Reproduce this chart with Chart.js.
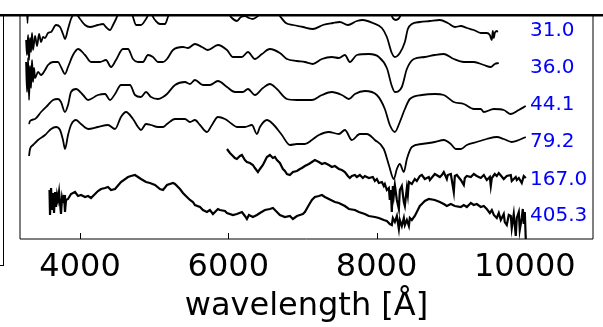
<!DOCTYPE html>
<html><head><meta charset="utf-8">
<script src="https://cdn.jsdelivr.net/npm/chart.js@4"></script>
<style>html,body{margin:0;padding:0;background:#fff;overflow:hidden}#wrap{position:relative;width:603px;height:327px}</style>
</head><body><div id="wrap"><canvas id="c" width="603" height="327"></canvas></div>
<script>
// epochs (labels at right of each spectrum)
const epochs = ['31.0','36.0','44.1','79.2','167.0','405.3'];
// label anchor flux (same offset units as spectra)
const labelFlux = [204,167,130,93,55,19];
const labelWl = 10070;
const xTicks = [4000,6000,8000,10000];

// spectra: [wavelength (Å), offset flux]
const spec_31 = [[3272,200],[3285,185],[3299,205],[3312,180],[3325,202],[3339,188],[3352,207],[3366,190],[3393,204],[3420,194],[3447,206],[3474,198],[3501,203],[3528,202],[3568,207],[3609,208],[3676,215],[3730,213],[3770,206],[3797,201],[3838,211],[3878,221],[3932,227],[4000,221],[4067,215],[4134,213],[4242,215],[4310,216],[4350,213],[4404,210],[4445,215],[4485,221],[4539,230],[4620,235],[4687,228],[4714,223],[4755,215],[4822,215],[4890,221],[4943,227],[5011,220],[5078,216],[5146,216],[5186,223],[5240,232],[5348,240],[5618,243],[5887,235],[5995,227],[6049,222],[6116,219],[6170,223],[6224,224],[6278,222],[6332,221],[6400,224],[6494,232],[6629,231],[6696,224],[6777,217],[6872,215],[7006,213],[7141,211],[7276,215],[7411,217],[7505,218],[7613,215],[7734,219],[7815,220],[7950,217],[8072,212],[8139,203],[8206,187],[8247,183],[8314,187],[8382,198],[8422,211],[8476,216],[8584,218],[8719,219],[8854,220],[8961,217],[9056,213],[9137,214],[9218,212],[9312,210],[9406,207],[9487,207],[9528,205],[9555,200],[9568,209],[9582,202],[9595,207],[9622,209],[9636,208]];
const spec_36 = [[3272,178],[3285,148],[3299,182],[3312,140],[3325,174],[3339,152],[3352,180],[3366,158],[3379,172],[3393,162],[3433,168],[3474,165],[3528,170],[3568,175],[3636,178],[3703,178],[3743,173],[3797,166],[3838,173],[3905,185],[3973,191],[4067,185],[4148,178],[4269,178],[4350,180],[4418,173],[4485,180],[4579,191],[4647,191],[4714,181],[4782,178],[4849,178],[4916,185],[4984,183],[5051,178],[5119,178],[5173,181],[5254,190],[5388,193],[5456,192],[5550,196],[5645,193],[5725,190],[5860,195],[5982,190],[6063,183],[6184,183],[6265,188],[6359,181],[6454,186],[6561,191],[6696,187],[6791,181],[6926,179],[7033,178],[7141,176],[7263,181],[7397,183],[7492,182],[7573,185],[7640,178],[7734,185],[7896,186],[8031,183],[8139,172],[8206,154],[8247,148],[8341,153],[8409,171],[8503,181],[8651,183],[8786,185],[8907,186],[9042,181],[9177,178],[9312,178],[9447,175],[9541,173],[9595,176],[9649,177]];
const spec_44 = [[3312,116],[3325,119],[3393,121],[3474,128],[3568,135],[3636,140],[3703,141],[3743,138],[3797,128],[3838,135],[3878,148],[3946,151],[4040,145],[4108,140],[4242,145],[4337,146],[4404,140],[4472,146],[4552,155],[4674,155],[4741,145],[4822,143],[4890,148],[4957,143],[5051,141],[5119,143],[5173,146],[5281,155],[5415,158],[5483,156],[5550,160],[5658,155],[5752,155],[5860,159],[5982,153],[6089,148],[6197,148],[6265,151],[6359,145],[6467,152],[6561,156],[6656,151],[6791,141],[6926,140],[7033,140],[7128,140],[7263,145],[7397,148],[7532,145],[7627,141],[7708,146],[7842,149],[8004,145],[8112,131],[8179,115],[8247,108],[8314,118],[8382,131],[8449,141],[8611,145],[8786,146],[8907,145],[9042,138],[9177,136],[9312,131],[9406,131],[9447,128],[9582,131],[9716,130],[9811,126],[9919,130],[10013,134]];
const spec_79 = [[3312,84],[3325,91],[3366,95],[3433,100],[3528,105],[3609,111],[3676,113],[3730,110],[3770,100],[3797,91],[3838,105],[3878,115],[3946,120],[4013,116],[4108,111],[4242,113],[4377,115],[4472,111],[4552,123],[4620,128],[4714,121],[4782,113],[4822,110],[4890,116],[4957,115],[5051,113],[5119,113],[5173,116],[5281,121],[5415,121],[5483,118],[5550,120],[5618,115],[5712,108],[5779,115],[5860,123],[5955,121],[6049,116],[6116,113],[6224,113],[6319,115],[6386,106],[6427,113],[6521,120],[6602,116],[6723,105],[6831,95],[6926,96],[7033,96],[7128,100],[7222,105],[7357,108],[7492,106],[7573,110],[7667,100],[7775,106],[7869,106],[7977,100],[8098,91],[8166,75],[8233,61],[8274,71],[8314,76],[8368,68],[8409,81],[8476,93],[8611,96],[8786,98],[8907,100],[9002,96],[9069,91],[9137,91],[9218,95],[9352,98],[9487,101],[9622,103],[9716,101],[9824,98],[9919,100],[10013,103]];
const spec_167 = [[5982,91],[6022,87],[6049,85],[6089,82],[6116,81],[6157,84],[6184,85],[6224,80],[6251,78],[6292,77],[6332,75],[6359,72],[6400,68],[6427,71],[6467,75],[6494,79],[6521,83],[6561,85],[6602,82],[6629,83],[6656,80],[6696,77],[6737,71],[6764,69],[6791,66],[6831,65],[6872,68],[6926,69],[6966,71],[6993,72],[7033,74],[7087,76],[7128,78],[7168,80],[7222,78],[7263,76],[7303,77],[7357,75],[7397,73],[7438,74],[7492,71],[7532,70],[7573,68],[7613,64],[7640,62],[7667,64],[7708,65],[7734,63],[7775,65],[7815,62],[7842,64],[7896,62],[7950,63],[7977,59],[8004,61],[8031,57],[8072,58],[8098,54],[8112,56],[8139,50],[8166,52],[8179,40],[8193,50],[8206,28],[8220,54],[8233,45],[8247,55],[8274,40],[8301,31],[8314,50],[8341,54],[8368,38],[8382,34],[8409,52],[8422,45],[8436,58],[8476,56],[8516,61],[8543,59],[8584,64],[8611,65],[8651,61],[8705,63],[8719,60],[8786,66],[8854,63],[8881,65],[8907,68],[8948,61],[8961,65],[9002,66],[9042,48],[9056,64],[9083,65],[9137,60],[9177,55],[9191,62],[9218,64],[9272,63],[9312,66],[9352,64],[9406,62],[9447,65],[9487,60],[9528,63],[9541,54],[9555,62],[9595,66],[9622,64],[9649,67],[9716,61],[9757,64],[9811,65],[9824,59],[9878,63],[9892,60],[9919,62],[9959,57],[9986,64],[10013,62]];
const spec_405 = [[3588,50],[3595,25],[3609,52],[3622,30],[3636,47],[3649,27],[3663,48],[3676,33],[3690,45],[3703,40],[3717,48],[3743,26],[3757,42],[3770,37],[3784,45],[3797,28],[3811,40],[3838,41],[3878,46],[3932,48],[3973,44],[4013,45],[4067,43],[4108,44],[4148,42],[4202,46],[4242,49],[4283,51],[4337,52],[4377,53],[4418,50],[4472,51],[4552,58],[4647,63],[4687,64],[4741,65],[4782,63],[4822,61],[4890,58],[4943,57],[5011,55],[5078,51],[5119,50],[5173,55],[5254,57],[5281,56],[5348,51],[5388,47],[5442,43],[5483,40],[5523,38],[5550,35],[5618,33],[5658,30],[5712,28],[5752,30],[5793,26],[5860,31],[5887,30],[5955,29],[5982,27],[6063,25],[6116,26],[6184,28],[6224,24],[6251,21],[6278,25],[6332,23],[6386,25],[6427,27],[6494,30],[6561,31],[6602,32],[6656,28],[6696,25],[6764,23],[6831,24],[6872,21],[6926,24],[6966,25],[7006,26],[7033,28],[7087,35],[7128,40],[7168,43],[7222,44],[7263,45],[7303,43],[7357,41],[7438,38],[7492,37],[7573,34],[7627,31],[7708,30],[7761,28],[7842,26],[7896,24],[7977,23],[8031,22],[8098,20],[8139,19],[8179,16],[8206,15],[8220,22],[8247,18],[8274,24],[8301,11],[8314,20],[8341,14],[8368,22],[8382,15],[8409,20],[8436,14],[8449,22],[8476,20],[8516,24],[8543,28],[8584,34],[8611,36],[8651,39],[8705,41],[8786,40],[8854,38],[8907,36],[8948,34],[9002,36],[9056,34],[9137,33],[9177,35],[9218,33],[9272,37],[9312,35],[9352,36],[9406,33],[9447,34],[9487,31],[9528,27],[9555,30],[9582,25],[9622,22],[9649,27],[9676,20],[9716,26],[9730,18],[9757,15],[9784,25],[9811,24],[9824,12],[9851,26],[9878,4],[9892,22],[9919,28],[9932,10],[9959,22],[9973,31],[9986,16],[10000,28],[10013,1]];
// earlier spectrum, mostly above the visible window
const spec_above = [[3275,250],[3292,217],[3305,250],[8140,250],[8206,224],[8260,220],[8320,224],[8380,250]];

const smoothSpectra = [spec_31, spec_36, spec_44, spec_79, spec_above];
const noisySpectra = [spec_167, spec_405];

const decor = {
  id: 'decor',
  afterDraw(chart) {
    const {ctx, chartArea: ca, scales: {x, y}} = chart;
    ctx.save();
    ctx.strokeStyle = '#000';
    ctx.lineWidth = 1;
    ctx.beginPath();
    ctx.moveTo(20, ca.top); ctx.lineTo(20, 239); ctx.lineTo(593, 239); ctx.lineTo(593, ca.top);
    ctx.stroke();
    // inward ticks
    ctx.beginPath();
    x.ticks.forEach(t => {
      const px = Math.round(x.getPixelForValue(t.value)) + 0.5;
      ctx.moveTo(px, 239); ctx.lineTo(px, 233);
    });
    ctx.stroke();
    // neighbouring panels' edges
    ctx.fillStyle = '#000';
    ctx.fillRect(0, 14, 603, 2.5);
    ctx.fillRect(3, 14, 1, 252);
    ctx.fillRect(0, 265, 4, 1);
    // epoch labels
    ctx.font = '20px "DejaVu Sans"';
    ctx.fillStyle = '#0000ff';
    ctx.textAlign = 'left';
    ctx.textBaseline = 'alphabetic';
    epochs.forEach((e, i) => {
      ctx.fillText(e, x.getPixelForValue(labelWl), y.getPixelForValue(labelFlux[i]));
    });
    ctx.restore();
  }
};

const toXY = s => s.map(p => ({x: p[0], y: p[1]}));
const datasets = smoothSpectra.map(s => ({
  data: toXY(s), showLine: true, borderColor: '#000', borderWidth: 1.8,
  pointRadius: 0, cubicInterpolationMode: 'monotone', fill: false
})).concat(noisySpectra.map(s => ({
  data: toXY(s), showLine: true, borderColor: '#000', borderWidth: 2.2,
  pointRadius: 0, tension: 0, fill: false
})));

new Chart(document.getElementById('c'), {
  type: 'scatter',
  data: {datasets},
  options: {
    responsive: false, animation: false, devicePixelRatio: 1,
    layout: {padding: {left: 20, right: 10, top: 16, bottom: 0}},
    plugins: {legend: {display: false}, tooltip: {enabled: false}},
    scales: {
      x: {
        type: 'linear', min: 3190, max: 10920,
        afterBuildTicks: s => { s.ticks = xTicks.map(v => ({value: v})); },
        afterFit: s => { s.height = 87; },
        grid: {display: false, drawTicks: false},
        border: {display: false},
        ticks: {font: {family: 'DejaVu Sans', size: 32}, color: '#000', padding: 8, maxRotation: 0, autoSkip: false, callback: v => String(v)},
        title: {display: true, text: 'wavelength [Å]', font: {family: 'DejaVu Sans', size: 32}, color: '#000', padding: {top: 0, bottom: 1}}
      },
      y: {display: false, min: 0, max: 224}
    }
  },
  plugins: [decor]
});
</script>
</body></html>
